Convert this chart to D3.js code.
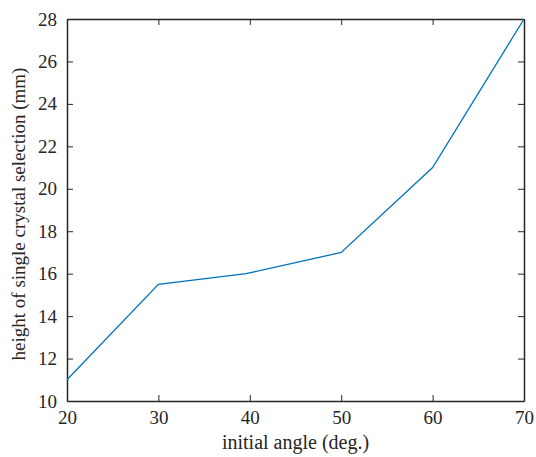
<!DOCTYPE html>
<html>
<head>
  <meta charset="utf-8">
  <style>
    body { margin: 0; background: #fff; }
    svg { display: block; font-family: 'Liberation Serif', serif; }
    .axis path, .axis line { stroke: #262626; }
    .axis text { fill: #262626; }
  </style>
</head>
<body>
  <svg width="536" height="457"></svg>
  <script src="https://d3js.org/d3.v7.min.js"></script>
  <script>
    var angles = [20, 30, 39.6, 50, 60, 70];
    var heights = [11, 15.5, 16, 17, 21, 28];
    var xTicks = [20, 30, 40, 50, 60, 70];
    var yTicks = [10, 12, 14, 16, 18, 20, 22, 24, 26, 28];

    (function() {
      var svg = d3.select('svg');
      var mLeft = 67, mRight = 524, mTop = 19, mBottom = 401;

      var x = d3.scaleLinear().domain([20, 70]).range([mLeft, mRight]);
      var y = d3.scaleLinear().domain([10, 28]).range([mBottom, mTop]);

      function styleAxis(g) {
        g.attr('font-family', null).attr('font-size', null);
        g.selectAll('text')
          .style('font-family', "'Liberation Serif', serif")
          .style('font-size', '19px');
        g.select('.domain').attr('stroke-width', 1.5);
      }

      // bottom / left axes with inward ticks
      svg.append('g').attr('class', 'axis')
        .attr('transform', 'translate(0,' + mBottom + ')')
        .call(d3.axisBottom(x).tickValues(xTicks).tickSizeInner(-6).tickSizeOuter(0).tickPadding(10))
        .call(styleAxis);

      svg.append('g').attr('class', 'axis')
        .attr('transform', 'translate(' + mLeft + ',0)')
        .call(d3.axisLeft(y).tickValues(yTicks).tickSizeInner(-6).tickSizeOuter(0).tickPadding(10))
        .call(styleAxis);

      // mirrored top / right axes, no labels
      svg.append('g').attr('class', 'axis')
        .attr('transform', 'translate(0,' + mTop + ')')
        .call(d3.axisTop(x).tickValues(xTicks).tickSizeInner(-6).tickSizeOuter(0).tickFormat(''))
        .call(styleAxis);

      svg.append('g').attr('class', 'axis')
        .attr('transform', 'translate(' + mRight + ',0)')
        .call(d3.axisRight(y).tickValues(yTicks).tickSizeInner(-6).tickSizeOuter(0).tickFormat(''))
        .call(styleAxis);

      var line = d3.line()
        .x(function(d, i) { return x(angles[i]); })
        .y(function(d) { return y(d); });

      svg.append('path')
        .datum(heights)
        .attr('d', line)
        .attr('fill', 'none')
        .attr('stroke', '#0072BD')
        .attr('stroke-width', 1.3);

      svg.append('text')
        .attr('x', (mLeft + mRight) / 2)
        .attr('y', 449)
        .attr('text-anchor', 'middle')
        .style('font-size', '20px')
        .attr('fill', '#262626')
        .text('initial angle (deg.)');

      svg.append('text')
        .attr('transform', 'translate(25,' + ((mTop + mBottom) / 2 + 4) + ') rotate(-90)')
        .attr('text-anchor', 'middle')
        .style('font-size', '19px')
        .attr('fill', '#262626')
        .text('height of single crystal selection (mm)');
    })();
  </script>
</body>
</html>
